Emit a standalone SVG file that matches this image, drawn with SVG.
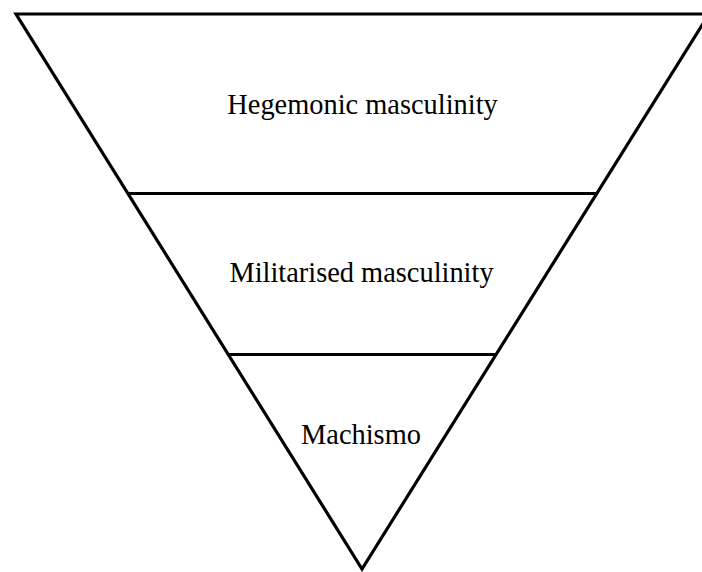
<svg xmlns="http://www.w3.org/2000/svg" width="702" height="572" viewBox="0 0 702 572">
<style>
.ln{stroke:#000;stroke-width:3.2;fill:none}
.t{font-family:"Liberation Serif","Times New Roman",serif;font-size:28.4px;fill:#000;text-anchor:middle}
</style>
<rect width="702" height="572" fill="#fff"/>
<g id="connectors">
<polygon class="ln" points="16,14 709,14 362,569" stroke-linejoin="miter"/>
<line class="ln" x1="128" y1="193.5" x2="597" y2="193.5"/>
<line class="ln" x1="228.5" y1="354.5" x2="496" y2="354.5"/>
</g>
<g id="n1"><text class="t" x="362.5" y="114">Hegemonic masculinity</text></g>
<g id="n2"><text class="t" x="361.5" y="282">Militarised masculinity</text></g>
<g id="n3"><text class="t" x="361" y="444">Machismo</text></g>
</svg>
